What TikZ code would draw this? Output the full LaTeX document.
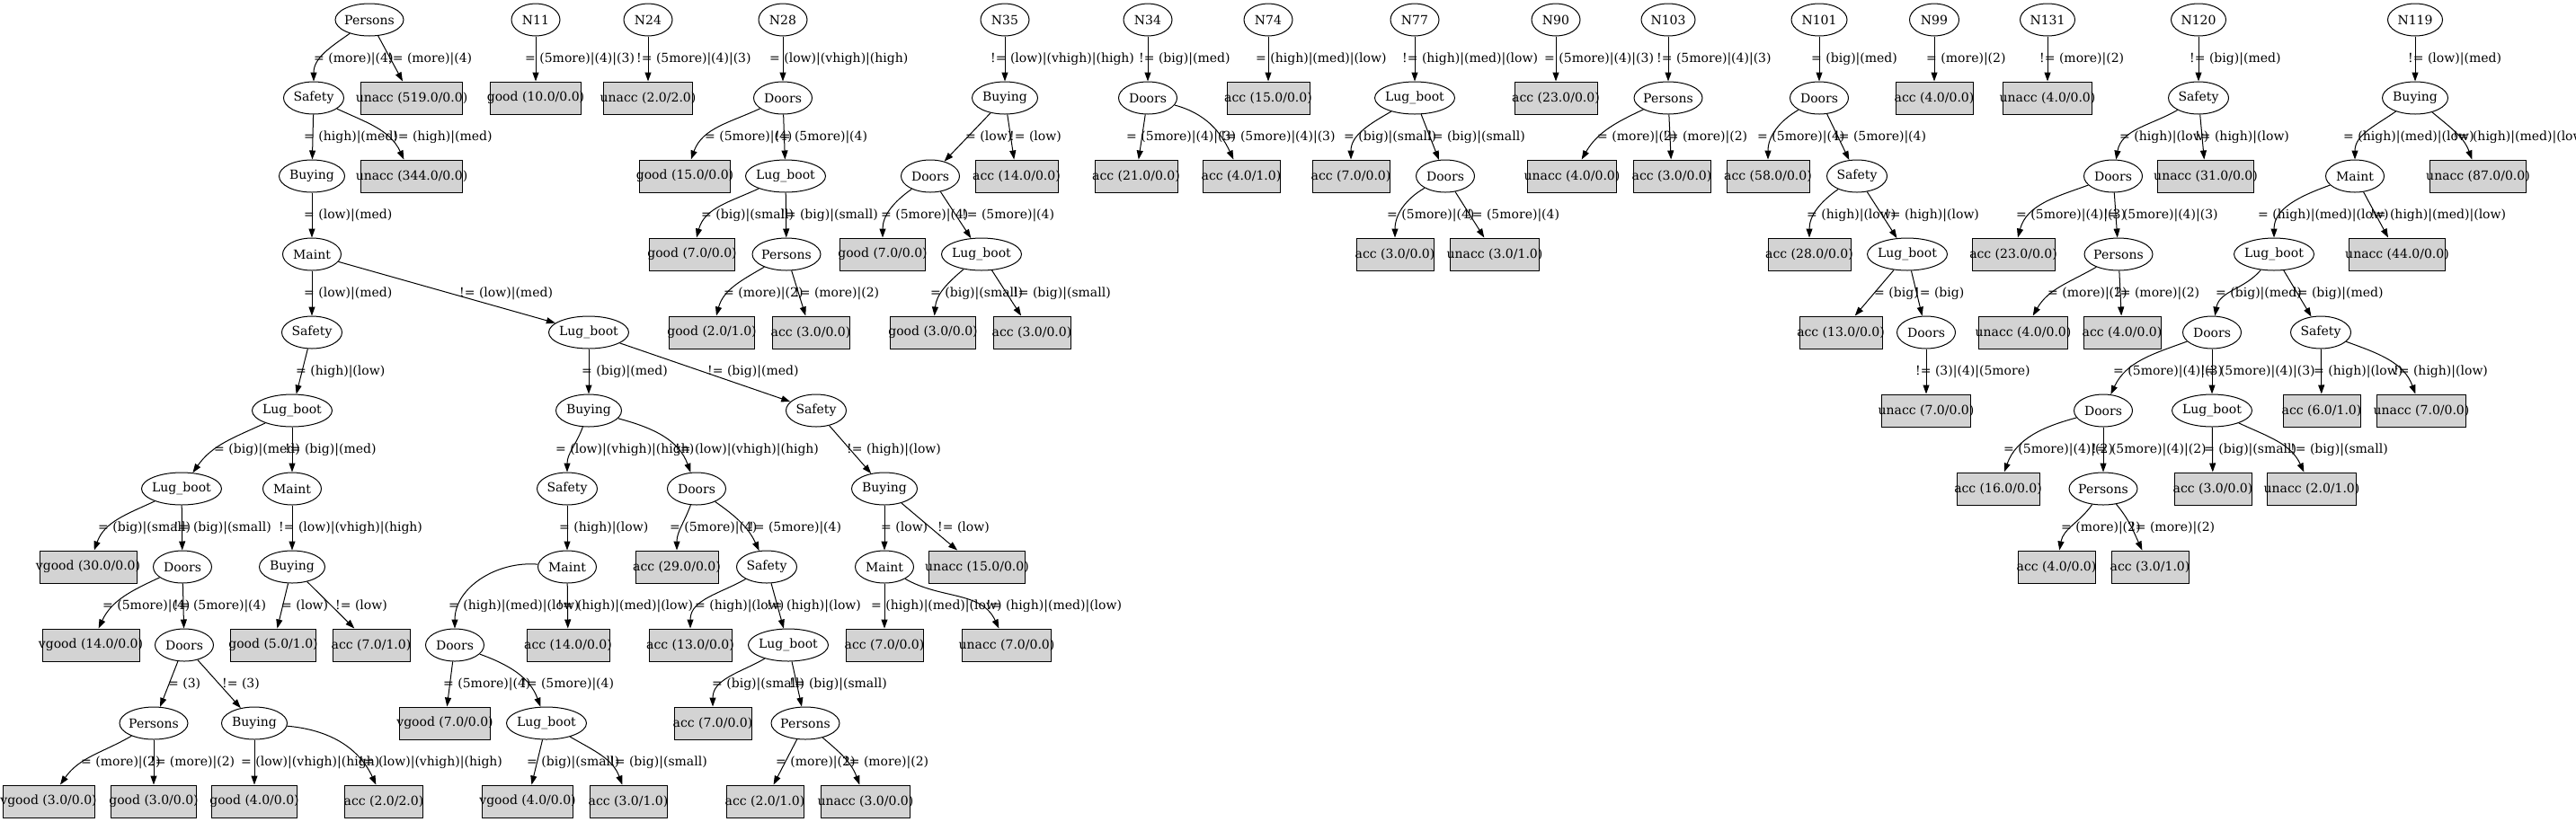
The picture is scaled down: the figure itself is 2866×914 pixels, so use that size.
\documentclass[tikz,border=0pt]{standalone}
\usepackage{fontspec}
\setmainfont{DejaVu Serif}
\usetikzlibrary{shapes.geometric,arrows.meta}
\definecolor{lightgrey}{RGB}{211,211,211}
\tikzstyle{attr}=[draw, ellipse, line width=1pt, minimum height=36pt,
  inner sep=0pt, font=\fontsize{14}{17}\selectfont]
\tikzstyle{leaf}=[draw, rectangle, fill=lightgrey, line width=1pt,
  minimum height=36pt, inner sep=0pt, font=\fontsize{14}{17}\selectfont]
\tikzstyle{texto}=[anchor=west, inner sep=0pt, font=\fontsize{14}{17}\selectfont]
\tikzstyle{line}=[draw, line width=1pt, -{Triangle[length=10pt,width=7pt]}]
\newcommand{\attr}[3]{node (p#1) [attr, minimum width=#3pt] {\makebox[0pt]{#2}}}
\newcommand{\leaf}[3]{node (p#1) [leaf, minimum width=#3pt] {\makebox[0pt]{#2}}}
\newcommand{\branch}[6]{%
  \path [line] (p#1) #2 (p#3);
  \node (l#3) [texto] at (#4,{21.5-87*#5}) {#6};}
\begin{document}
\begin{tikzpicture}[x=1pt,y=1pt]
\fill[white] (0,0) rectangle (2866,-914);
\useasboundingbox (0,0) rectangle (2866,-914);

% Draw diagram elements
% Persons tree
\path (411,-22) \attr{a1}{Persons}{76};
\path (349,-109) \attr{a2}{Safety}{67};
\path (458,-109) \leaf{a3}{unacc (519.0/0.0)}{113};
\path (347,-196) \attr{a4}{Buying}{73};
\path (458,-196) \leaf{a5}{unacc (344.0/0.0)}{113};
\path (347,-283) \attr{a6}{Maint}{65};
\path (347,-370) \attr{a7}{Safety}{67};
\path (655,-370) \attr{a8}{Lug\_boot}{89};
\path (325,-457) \attr{a9}{Lug\_boot}{89};
\path (655,-457) \attr{a10}{Buying}{73};
\path (908,-457) \attr{a11}{Safety}{67};
\path (202,-544) \attr{a12}{Lug\_boot}{89};
\path (325,-544) \attr{a13}{Maint}{65};
\path (631,-544) \attr{a14}{Safety}{67};
\path (775,-544) \attr{a15}{Doors}{65};
\path (984,-544) \attr{a16}{Buying}{73};
\path (98,-631) \leaf{a17}{vgood (30.0/0.0)}{108};
\path (203,-631) \attr{a18}{Doors}{65};
\path (325,-631) \attr{a19}{Buying}{73};
\path (631,-631) \attr{a20}{Maint}{65};
\path (753,-631) \leaf{a21}{acc (29.0/0.0)}{92};
\path (853,-631) \attr{a22}{Safety}{67};
\path (984,-631) \attr{a23}{Maint}{65};
\path (1087,-631) \leaf{a24}{unacc (15.0/0.0)}{107};
\path (101,-718) \leaf{a25}{vgood (14.0/0.0)}{108};
\path (205,-718) \attr{a26}{Doors}{65};
\path (304,-718) \leaf{a27}{good (5.0/1.0)}{95};
\path (413,-718) \leaf{a28}{acc (7.0/1.0)}{86};
\path (506,-718) \attr{a29}{Doors}{65};
\path (632,-718) \leaf{a30}{acc (14.0/0.0)}{92};
\path (768,-718) \leaf{a31}{acc (13.0/0.0)}{92};
\path (877,-718) \attr{a32}{Lug\_boot}{89};
\path (984,-718) \leaf{a33}{acc (7.0/0.0)}{86};
\path (1120,-718) \leaf{a34}{unacc (7.0/0.0)}{99};
\path (171,-805) \attr{a35}{Persons}{76};
\path (283,-805) \attr{a36}{Buying}{73};
\path (495,-805) \leaf{a37}{vgood (7.0/0.0)}{101};
\path (608,-805) \attr{a38}{Lug\_boot}{89};
\path (793,-805) \leaf{a39}{acc (7.0/0.0)}{86};
\path (896,-805) \attr{a40}{Persons}{76};
\path (54,-892) \leaf{a41}{vgood (3.0/0.0)}{102};
\path (171,-892) \leaf{a42}{good (3.0/0.0)}{95};
\path (283,-892) \leaf{a43}{good (4.0/0.0)}{95};
\path (427,-892) \leaf{a44}{acc (2.0/2.0)}{87};
\path (587,-892) \leaf{a45}{vgood (4.0/0.0)}{101};
\path (699,-892) \leaf{a46}{acc (3.0/1.0)}{86};
\path (851,-892) \leaf{a47}{acc (2.0/1.0)}{86};
\path (963,-892) \leaf{a48}{unacc (3.0/0.0)}{99};

% N11, N24, N28
\path (596,-22) \attr{b1}{N11}{54};
\path (596,-109) \leaf{b2}{good (10.0/0.0)}{101};
\path (721,-22) \attr{c1}{N24}{54};
\path (721,-109) \leaf{c2}{unacc (2.0/2.0)}{99};
\path (871,-22) \attr{d1}{N28}{54};
\path (871,-109) \attr{d2}{Doors}{65};
\path (762,-196) \leaf{d3}{good (15.0/0.0)}{101};
\path (874,-196) \attr{d4}{Lug\_boot}{89};
\path (770,-283) \leaf{d5}{good (7.0/0.0)}{95};
\path (875,-283) \attr{d6}{Persons}{76};
\path (792,-370) \leaf{d7}{good (2.0/1.0)}{95};
\path (902,-370) \leaf{d8}{acc (3.0/0.0)}{86};

% N35, N34, N74
\path (1118,-22) \attr{e1}{N35}{54};
\path (1118,-109) \attr{e2}{Buying}{73};
\path (1035,-196) \attr{e3}{Doors}{65};
\path (1131,-196) \leaf{e4}{acc (14.0/0.0)}{92};
\path (982,-283) \leaf{e5}{good (7.0/0.0)}{95};
\path (1092,-283) \attr{e6}{Lug\_boot}{89};
\path (1038,-370) \leaf{e7}{good (3.0/0.0)}{95};
\path (1148,-370) \leaf{e8}{acc (3.0/0.0)}{86};
\path (1277,-22) \attr{f1}{N34}{54};
\path (1277,-109) \attr{f2}{Doors}{65};
\path (1264,-196) \leaf{f3}{acc (21.0/0.0)}{92};
\path (1381,-196) \leaf{f4}{acc (4.0/1.0)}{86};
\path (1411,-22) \attr{g1}{N74}{54};
\path (1411,-109) \leaf{g2}{acc (15.0/0.0)}{92};

% N77, N90, N103
\path (1574,-22) \attr{h1}{N77}{54};
\path (1574,-109) \attr{h2}{Lug\_boot}{89};
\path (1503,-196) \leaf{h3}{acc (7.0/0.0)}{86};
\path (1608,-196) \attr{h4}{Doors}{65};
\path (1552,-283) \leaf{h5}{acc (3.0/0.0)}{86};
\path (1663,-283) \leaf{h6}{unacc (3.0/1.0)}{99};
\path (1731,-22) \attr{i1}{N90}{54};
\path (1731,-109) \leaf{i2}{acc (23.0/0.0)}{92};
\path (1856,-22) \attr{j1}{N103}{60};
\path (1856,-109) \attr{j2}{Persons}{76};
\path (1749,-196) \leaf{j3}{unacc (4.0/0.0)}{99};
\path (1860,-196) \leaf{j4}{acc (3.0/0.0)}{86};

% N101, N99, N131
\path (2024,-22) \attr{k1}{N101}{62};
\path (2024,-109) \attr{k2}{Doors}{65};
\path (1967,-196) \leaf{k3}{acc (58.0/0.0)}{92};
\path (2066,-196) \attr{k4}{Safety}{67};
\path (2013,-283) \leaf{k5}{acc (28.0/0.0)}{92};
\path (2122,-283) \attr{k6}{Lug\_boot}{89};
\path (2048,-370) \leaf{k7}{acc (13.0/0.0)}{92};
\path (2143,-370) \attr{k8}{Doors}{65};
\path (2143,-457) \leaf{k9}{unacc (7.0/0.0)}{99};
\path (2152,-22) \attr{l1}{N99}{55};
\path (2152,-109) \leaf{l2}{acc (4.0/0.0)}{86};
\path (2278,-22) \attr{m1}{N131}{61};
\path (2278,-109) \leaf{m2}{unacc (4.0/0.0)}{99};

% N120, N119
\path (2446,-22) \attr{n1}{N120}{61};
\path (2446,-109) \attr{n2}{Safety}{67};
\path (2351,-196) \attr{n3}{Doors}{65};
\path (2454,-196) \leaf{n4}{unacc (31.0/0.0)}{107};
\path (2240,-283) \leaf{n5}{acc (23.0/0.0)}{92};
\path (2357,-283) \attr{n6}{Persons}{76};
\path (2251,-370) \leaf{n7}{unacc (4.0/0.0)}{99};
\path (2361,-370) \leaf{n8}{acc (4.0/0.0)}{86};
\path (2687,-22) \attr{o1}{N119}{61};
\path (2687,-109) \attr{o2}{Buying}{73};
\path (2620,-196) \attr{o3}{Maint}{65};
\path (2757,-196) \leaf{o4}{unacc (87.0/0.0)}{107};
\path (2530,-283) \attr{o5}{Lug\_boot}{89};
\path (2667,-283) \leaf{o6}{unacc (44.0/0.0)}{107};
\path (2461,-370) \attr{o7}{Doors}{65};
\path (2582,-370) \attr{o8}{Safety}{67};
\path (2340,-457) \attr{o9}{Doors}{65};
\path (2461,-457) \attr{o10}{Lug\_boot}{89};
\path (2583,-457) \leaf{o11}{acc (6.0/1.0)}{86};
\path (2694,-457) \leaf{o12}{unacc (7.0/0.0)}{99};
\path (2223,-544) \leaf{o13}{acc (16.0/0.0)}{92};
\path (2340,-544) \attr{o14}{Persons}{76};
\path (2462,-544) \leaf{o15}{acc (3.0/0.0)}{86};
\path (2572,-544) \leaf{o16}{unacc (2.0/1.0)}{99};
\path (2288,-631) \leaf{o17}{acc (4.0/0.0)}{86};
\path (2392,-631) \leaf{o18}{acc (3.0/1.0)}{86};

% Draw arrows between elements
\branch{a1}{to[out=-145,in=90]}{a2}{349}{1}{= (more)|(4)}
\branch{a1}{--}{a3}{431}{1}{!= (more)|(4)}
\branch{a2}{--}{a4}{338}{2}{= (high)|(med)}
\branch{a2}{to[out=-25,in=115]}{a5}{437}{2}{!= (high)|(med)}
\branch{a4}{--}{a6}{338}{3}{= (low)|(med)}
\branch{a6}{--}{a7}{338}{4}{= (low)|(med)}
\branch{a6}{--}{a8}{511}{4}{!= (low)|(med)}
\branch{a7}{--}{a9}{329}{5}{= (high)|(low)}
\branch{a8}{--}{a10}{647}{5}{= (big)|(med)}
\branch{a8}{--}{a11}{787}{5}{!= (big)|(med)}
\branch{a9}{to[out=-155,in=55]}{a12}{238}{6}{= (big)|(med)}
\branch{a9}{--}{a13}{317}{6}{!= (big)|(med)}
\branch{a10}{to[out=-110,in=90]}{a14}{618}{6}{= (low)|(vhigh)|(high)}
\branch{a10}{to[out=-15,in=110]}{a15}{751}{6}{!= (low)|(vhigh)|(high)}
\branch{a11}{--}{a16}{942}{6}{!= (high)|(low)}
\branch{a12}{to[out=-155,in=70]}{a17}{109}{7}{= (big)|(small)}
\branch{a12}{--}{a18}{193}{7}{!= (big)|(small)}
\branch{a13}{--}{a19}{310}{7}{!= (low)|(vhigh)|(high)}
\branch{a14}{--}{a20}{622}{7}{= (high)|(low)}
\branch{a15}{to[out=-110,in=90]}{a21}{745}{7}{= (5more)|(4)}
\branch{a15}{to[out=-35,in=115]}{a22}{833}{7}{!= (5more)|(4)}
\branch{a16}{--}{a23}{980}{7}{= (low)}
\branch{a16}{--}{a24}{1043}{7}{!= (low)}
\branch{a18}{to[out=-155,in=65]}{a25}{114}{8}{= (5more)|(4)}
\branch{a18}{--}{a26}{193}{8}{!= (5more)|(4)}
\branch{a19}{--}{a27}{313}{8}{= (low)}
\branch{a19}{--}{a28}{373}{8}{!= (low)}
\branch{a20}{to[out=175,in=90]}{a29}{499}{8}{= (high)|(med)|(low)}
\branch{a20}{--}{a30}{620}{8}{!= (high)|(med)|(low)}
\branch{a22}{to[out=-150,in=90]}{a31}{773}{8}{= (high)|(low)}
\branch{a22}{--}{a32}{853}{8}{!= (high)|(low)}
\branch{a23}{--}{a33}{969}{8}{= (high)|(med)|(low)}
\branch{a23}{to[out=-30,in=115]}{a34}{1097}{8}{!= (high)|(med)|(low)}
\branch{a26}{--}{a35}{187}{9}{= (3)}
\branch{a26}{--}{a36}{247}{9}{!= (3)}
\branch{a29}{--}{a37}{493}{9}{= (5more)|(4)}
\branch{a29}{to[out=-20,in=110]}{a38}{580}{9}{!= (5more)|(4)}
\branch{a32}{to[out=-150,in=90]}{a39}{792}{9}{= (big)|(small)}
\branch{a32}{--}{a40}{878}{9}{!= (big)|(small)}
\branch{a35}{to[out=-150,in=55]}{a41}{90}{10}{= (more)|(2)}
\branch{a35}{--}{a42}{167}{10}{!= (more)|(2)}
\branch{a36}{--}{a43}{268}{10}{= (low)|(vhigh)|(high)}
\branch{a36}{to[out=-5,in=115]}{a44}{399}{10}{!= (low)|(vhigh)|(high)}
\branch{a38}{--}{a45}{586}{10}{= (big)|(small)}
\branch{a38}{to[out=-30,in=110]}{a46}{678}{10}{!= (big)|(small)}
\branch{a40}{--}{a47}{863}{10}{= (more)|(2)}
\branch{a40}{to[out=-40,in=110]}{a48}{939}{10}{!= (more)|(2)}

\branch{b1}{--}{b2}{584}{1}{= (5more)|(4)|(3)}
\branch{c1}{--}{c2}{708}{1}{!= (5more)|(4)|(3)}
\branch{d1}{--}{d2}{856}{1}{= (low)|(vhigh)|(high)}
\branch{d2}{to[out=-155,in=70]}{d3}{784}{2}{= (5more)|(4)}
\branch{d2}{--}{d4}{862}{2}{!= (5more)|(4)}
\branch{d4}{to[out=-155,in=75]}{d5}{780}{3}{= (big)|(small)}
\branch{d4}{--}{d6}{868}{3}{!= (big)|(small)}
\branch{d6}{to[out=-150,in=75]}{d7}{805}{4}{= (more)|(2)}
\branch{d6}{--}{d8}{884}{4}{!= (more)|(2)}

\branch{e1}{--}{e2}{1102}{1}{!= (low)|(vhigh)|(high)}
\branch{e2}{--}{e3}{1074}{2}{= (low)}
\branch{e2}{--}{e4}{1123}{2}{!= (low)}
\branch{e3}{to[out=-145,in=90]}{e5}{980}{3}{= (5more)|(4)}
\branch{e3}{--}{e6}{1070}{3}{!= (5more)|(4)}
\branch{e6}{to[out=-140,in=85]}{e7}{1035}{4}{= (big)|(small)}
\branch{e6}{--}{e8}{1127}{4}{!= (big)|(small)}
\branch{f1}{--}{f2}{1267}{1}{!= (big)|(med)}
\branch{f2}{--}{f3}{1253}{2}{= (5more)|(4)|(3)}
\branch{f2}{to[out=-15,in=115]}{f4}{1358}{2}{!= (5more)|(4)|(3)}
\branch{g1}{--}{g2}{1397}{1}{= (high)|(med)|(low)}

\branch{h1}{--}{h2}{1560}{1}{!= (high)|(med)|(low)}
\branch{h2}{to[out=-150,in=90]}{h3}{1495}{2}{= (big)|(small)}
\branch{h2}{--}{h4}{1588}{2}{!= (big)|(small)}
\branch{h4}{to[out=-150,in=90]}{h5}{1543}{3}{= (5more)|(4)}
\branch{h4}{--}{h6}{1632}{3}{!= (5more)|(4)}
\branch{i1}{--}{i2}{1718}{1}{= (5more)|(4)|(3)}
\branch{j1}{--}{j2}{1843}{1}{!= (5more)|(4)|(3)}
\branch{j2}{to[out=-155,in=60]}{j3}{1777}{2}{= (more)|(2)}
\branch{j2}{--}{j4}{1850}{2}{!= (more)|(2)}

\branch{k1}{--}{k2}{2015}{1}{= (big)|(med)}
\branch{k2}{to[out=-150,in=90]}{k3}{1955}{2}{= (5more)|(4)}
\branch{k2}{--}{k4}{2040}{2}{!= (5more)|(4)}
\branch{k4}{to[out=-145,in=90]}{k5}{2010}{3}{= (high)|(low)}
\branch{k4}{--}{k6}{2097}{3}{!= (high)|(low)}
\branch{k6}{--}{k7}{2085}{4}{= (big)}
\branch{k6}{--}{k8}{2130}{4}{!= (big)}
\branch{k8}{--}{k9}{2131}{5}{!= (3)|(4)|(5more)}
\branch{l1}{--}{l2}{2143}{1}{= (more)|(2)}
\branch{m1}{--}{m2}{2269}{1}{!= (more)|(2)}

\branch{n1}{--}{n2}{2436}{1}{!= (big)|(med)}
\branch{n2}{to[out=-150,in=80]}{n3}{2358}{2}{= (high)|(low)}
\branch{n2}{--}{n4}{2442}{2}{!= (high)|(low)}
\branch{n3}{to[out=-160,in=75]}{n5}{2243}{3}{= (5more)|(4)|(3)}
\branch{n3}{--}{n6}{2340}{3}{!= (5more)|(4)|(3)}
\branch{n6}{to[out=-150,in=60]}{n7}{2278}{4}{= (more)|(2)}
\branch{n6}{--}{n8}{2353}{4}{!= (more)|(2)}
\branch{o1}{--}{o2}{2679}{1}{!= (low)|(med)}
\branch{o2}{to[out=-145,in=90]}{o3}{2607}{2}{= (high)|(med)|(low)}
\branch{o2}{to[out=-40,in=110]}{o4}{2729}{2}{!= (high)|(med)|(low)}
\branch{o3}{to[out=-160,in=90]}{o5}{2512}{3}{= (high)|(med)|(low)}
\branch{o3}{--}{o6}{2637}{3}{!= (high)|(med)|(low)}
\branch{o5}{to[out=-130,in=80]}{o7}{2465}{4}{= (big)|(med)}
\branch{o5}{--}{o8}{2550}{4}{!= (big)|(med)}
\branch{o7}{to[out=-160,in=65]}{o9}{2351}{5}{= (5more)|(4)|(3)}
\branch{o7}{--}{o10}{2448}{5}{!= (5more)|(4)|(3)}
\branch{o8}{--}{o11}{2574}{5}{= (high)|(low)}
\branch{o8}{to[out=-20,in=110]}{o12}{2663}{5}{!= (high)|(low)}
\branch{o9}{to[out=-165,in=70]}{o13}{2229}{6}{= (5more)|(4)|(2)}
\branch{o9}{--}{o14}{2327}{6}{!= (5more)|(4)|(2)}
\branch{o10}{--}{o15}{2452}{6}{= (big)|(small)}
\branch{o10}{to[out=-25,in=115]}{o16}{2548}{6}{!= (big)|(small)}
\branch{o14}{to[out=-125,in=80]}{o17}{2293}{7}{= (more)|(2)}
\branch{o14}{to[out=-50,in=115]}{o18}{2370}{7}{!= (more)|(2)}
\end{tikzpicture}
\end{document}
